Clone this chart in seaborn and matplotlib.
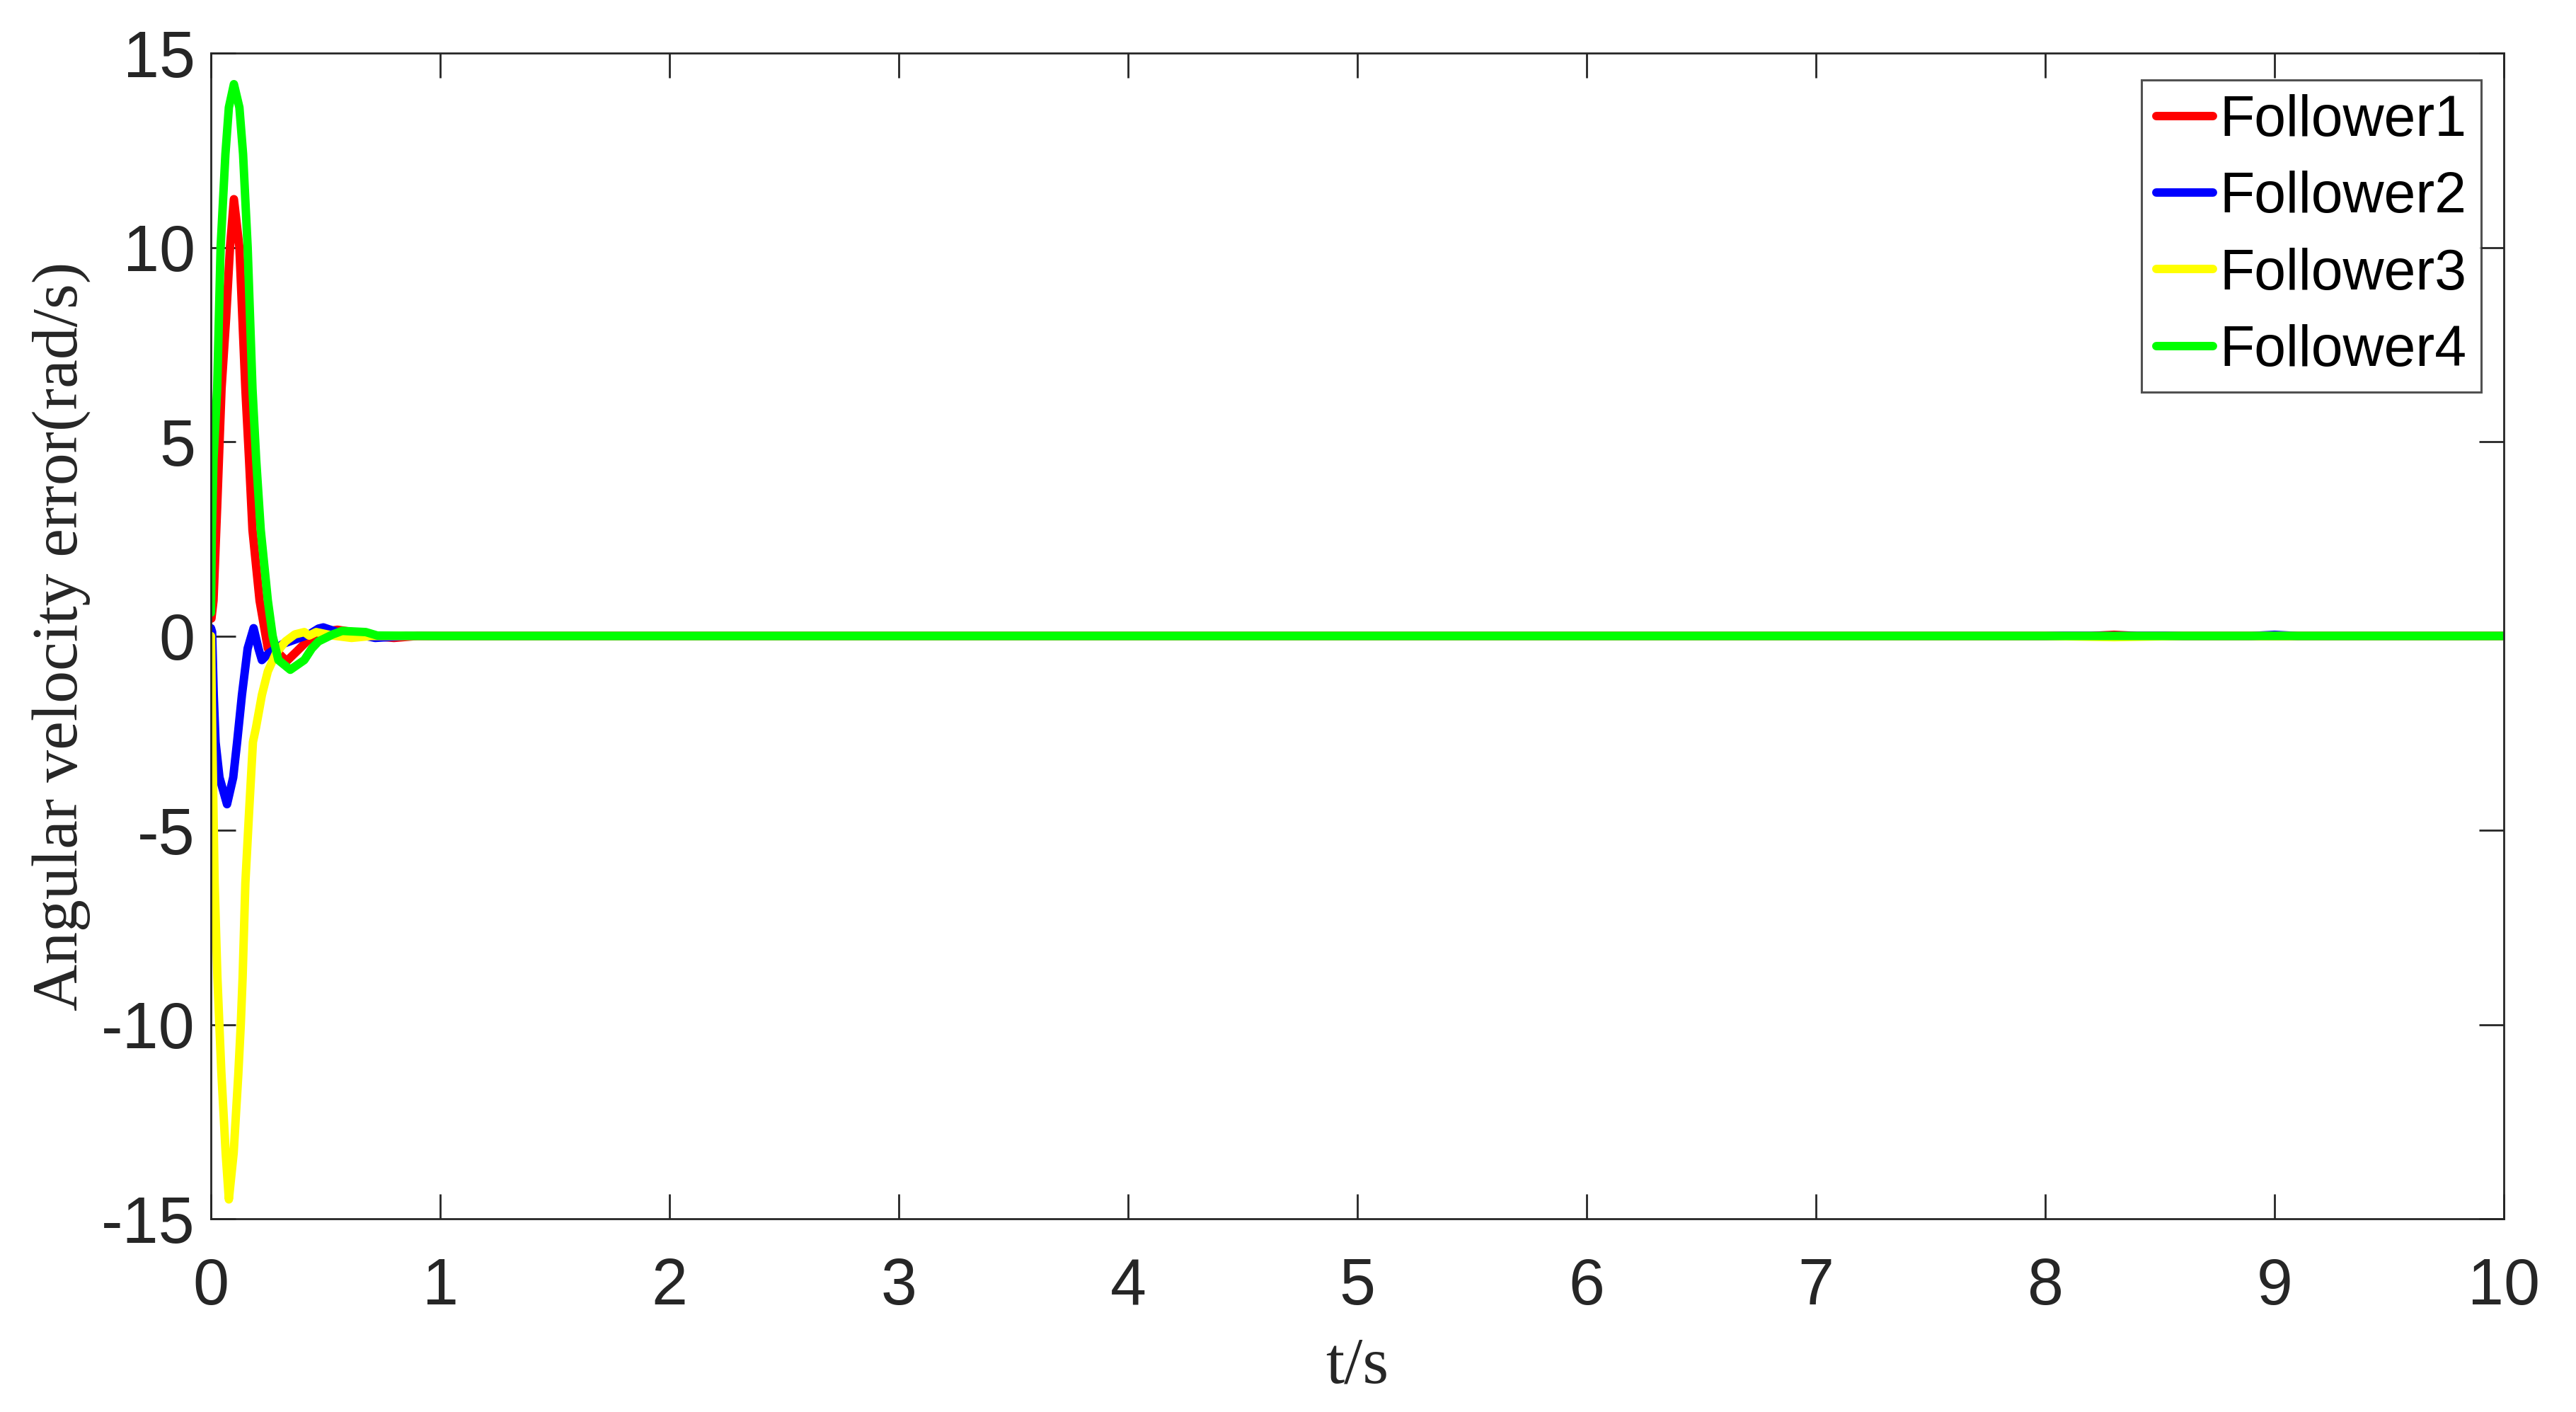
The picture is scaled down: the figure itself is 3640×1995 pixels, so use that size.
import pandas as pd
import matplotlib
matplotlib.use("Agg")
import matplotlib.pyplot as plt
import seaborn as sns

# Angular velocity error per follower
t_f1 = [0, 0.002, 0.011, 0.027, 0.046, 0.066, 0.083, 0.100, 0.124, 0.137, 0.150,
        0.166, 0.181, 0.212, 0.248, 0.284, 0.330, 0.377, 0.418, 0.490, 0.551,
        0.620, 0.695, 0.798, 0.90, 8.2, 8.3, 8.4, 10]
w_f1 = [0.45, 0.45, 0.91, 3.33, 6.36, 8.18, 10.0, 11.24, 10.0, 8.18, 6.36,
        4.55, 2.73, 0.91, -0.32, -0.38, -0.65, -0.38, -0.14, 0.10, 0.16,
        0.10, 0.0, -0.05, 0.0, 0.0, 0.03, 0.0, 0.0]

t_f2 = [0, 0.005, 0.012, 0.020, 0.037, 0.070, 0.097, 0.114, 0.135, 0.160, 0.186,
        0.207, 0.222, 0.253, 0.315, 0.387, 0.428, 0.469, 0.490, 0.551, 0.644,
        0.716, 0.85, 8.9, 9.0, 9.1, 10]
w_f2 = [0.2, 0.1, -1.5, -2.73, -3.64, -4.33, -3.64, -2.73, -1.52, -0.32, 0.2,
        -0.32, -0.62, -0.44, -0.2, -0.05, 0.04, 0.19, 0.22, 0.1, 0.04,
        -0.05, 0.0, 0.0, 0.03, 0.0, 0.0]

t_f3 = [0, 0.003, 0.006, 0.016, 0.028, 0.045, 0.064, 0.078, 0.099, 0.119, 0.130,
        0.138, 0.150, 0.166, 0.183, 0.196, 0.222, 0.248, 0.284, 0.325, 0.366,
        0.407, 0.428, 0.459, 0.531, 0.613, 0.70, 8.0, 8.3, 8.6, 10]
w_f3 = [0.0, -1.5, -2.73, -6.36, -8.79, -11.2, -13.3, -14.5, -13.3, -11.3, -10.0,
        -8.79, -6.36, -4.55, -2.73, -2.37, -1.52, -0.91, -0.44, -0.14, 0.04,
        0.1, 0.01, 0.1, 0.01, -0.05, 0.0, 0.0, -0.03, 0.0, 0.0]

t_f4 = [0, 0.004, 0.011, 0.027, 0.042, 0.063, 0.078, 0.100, 0.124, 0.140, 0.160,
        0.181, 0.197, 0.217, 0.248, 0.269, 0.294, 0.346, 0.407, 0.440, 0.469,
        0.531, 0.572, 0.675, 0.726, 1.0, 10]
w_f4 = [0.6, 2.73, 4.55, 6.36, 10.0, 12.4, 13.6, 14.2, 13.6, 12.4, 10.0,
        6.36, 4.55, 2.73, 0.91, 0.0, -0.62, -0.87, -0.62, -0.32, -0.14,
        0.04, 0.13, 0.10, 0.01, 0.0, 0.0]

labels = ["Follower1", "Follower2", "Follower3", "Follower4"]
colors = ["#ff0000", "#0000ff", "#ffff00", "#00ff00"]

frames = []
for name, t, w in zip(labels, [t_f1, t_f2, t_f3, t_f4], [w_f1, w_f2, w_f3, w_f4]):
    frames.append(pd.DataFrame({"t": t, "w": w, "series": name}))
df = pd.concat(frames, ignore_index=True)

sns.set_theme(style="white")
plt.rcParams["font.family"] = ["Liberation Sans", "DejaVu Sans"]
plt.rcParams["axes.unicode_minus"] = False

fig = plt.figure(figsize=(36.4, 19.95), dpi=100)
ax = fig.add_axes([0.0819, 0.1368, 0.8901, 0.8256])

sns.lineplot(data=df, x="t", y="w", hue="series", hue_order=labels,
             palette=colors, estimator=None, sort=False, linewidth=8.6, ax=ax)

ax.set_xlim(0, 10)
ax.set_ylim(-15, 15)
ax.set_xticks(range(0, 11))
ax.set_yticks([-15, -10, -5, 0, 5, 10, 15])

dark = "#262626"
for s in ax.spines.values():
    s.set_color(dark)
    s.set_linewidth(2.0)
    s.set_visible(True)
ax.tick_params(direction="in", length=25, width=2, color=dark, labelcolor=dark,
               labelsize=66, top=True, right=True, bottom=True, left=True)
ax.tick_params(axis="x", pad=39)
ax.tick_params(axis="y", pad=16)

ax.set_xlabel("t/s", family="Liberation Serif", fontsize=68, color=dark, va="baseline")
ax.xaxis.set_label_coords(0.5, -0.1403)
ax.set_ylabel("Angular velocity error(rad/s)", family="Liberation Serif",
              fontsize=66, color=dark, va="center")
ax.yaxis.set_label_coords(-0.0654, 0.5)

leg = ax.legend(loc="upper right", bbox_to_anchor=(0.9901, 0.9769), fontsize=58,
                frameon=True, fancybox=False, handlelength=1.0, handletextpad=0.12,
                labelspacing=0.40, borderpad=0.25, borderaxespad=0)
leg.get_frame().set_edgecolor(dark)
leg.get_frame().set_linewidth(2.2)
for line in leg.get_lines():
    line.set_linewidth(8.6)
for txt in leg.get_texts():
    txt.set_color("black")

fig.savefig("out.png", dpi=100, facecolor="white")
